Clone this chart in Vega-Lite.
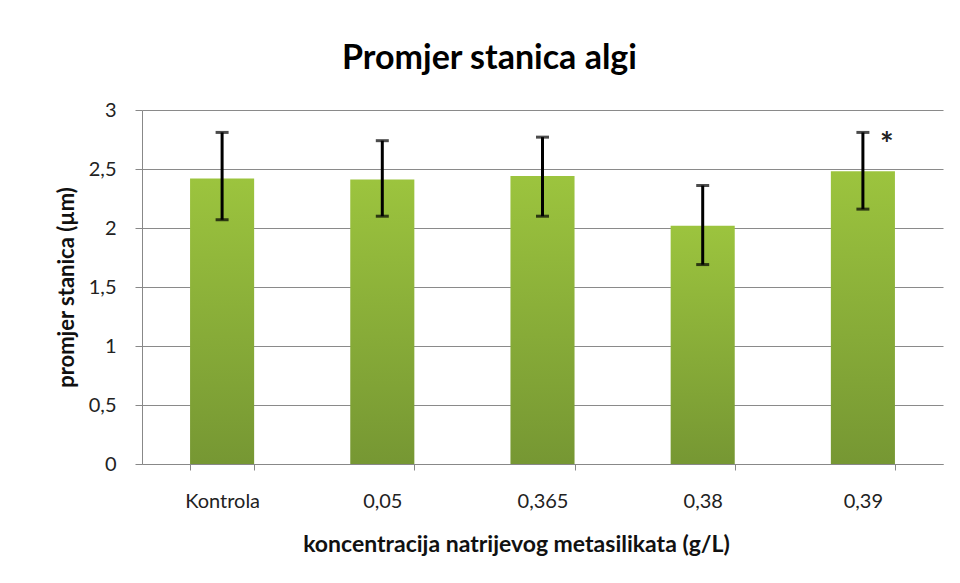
{
  "$schema": "https://vega.github.io/schema/vega-lite/v6.json",
  "width": 801,
  "height": 354,
  "autosize": {"type": "none"},
  "padding": {"left": 142, "top": 110, "right": 17, "bottom": 119},
  "background": "white",
  "title": {
    "text": "Promjer stanica algi",
    "font": "Lato",
    "fontSize": 34,
    "fontWeight": "bold",
    "color": "#000000",
    "anchor": "middle",
    "dx": -53,
    "offset": 24
  },
  "config": {
    "view": {"stroke": null},
    "font": "Lato"
  },
  "data": {
    "values": [
      {"kategorija": "Kontrola", "promjer": 2.42, "donja": 2.07, "gornja": 2.81, "oznaka": ""},
      {"kategorija": "0,05", "promjer": 2.41, "donja": 2.10, "gornja": 2.74, "oznaka": ""},
      {"kategorija": "0,365", "promjer": 2.44, "donja": 2.10, "gornja": 2.77, "oznaka": ""},
      {"kategorija": "0,38", "promjer": 2.02, "donja": 1.69, "gornja": 2.36, "oznaka": ""},
      {"kategorija": "0,39", "promjer": 2.48, "donja": 2.16, "gornja": 2.81, "oznaka": "*"}
    ]
  },
  "encoding": {
    "x": {
      "field": "kategorija",
      "type": "nominal",
      "sort": null,
      "scale": {"paddingInner": 0.6, "paddingOuter": 0.3},
      "axis": {
        "title": "koncentracija natrijevog metasilikata (g/L)",
        "titleFont": "Lato",
        "titleFontSize": 23,
        "titleFontWeight": "bold",
        "titleColor": "#111111",
        "titlePadding": 22,
        "titleX": 374,
        "labelAngle": 0,
        "labelFont": "Lato",
        "labelFontSize": 20,
        "labelColor": "#222222",
        "labelPadding": 21,
        "domainColor": "#888888",
        "tickColor": "#888888",
        "tickSize": 6,
        "tickBand": "extent",
        "grid": false
      }
    }
  },
  "layer": [
    {
      "mark": {
        "type": "bar",
        "color": {
          "gradient": "linear",
          "x1": 0, "y1": 0, "x2": 0, "y2": 1,
          "stops": [
            {"offset": 0, "color": "#9cc43e"},
            {"offset": 1, "color": "#769733"}
          ]
        }
      },
      "encoding": {
        "y": {
          "field": "promjer",
          "type": "quantitative",
          "scale": {"domain": [0, 3]},
          "axis": {
            "title": "promjer stanica  (µm)",
            "titleFont": "Lato",
            "titleFontSize": 22,
            "titleFontWeight": "bold",
            "titleColor": "#111111",
            "titlePadding": 10,
            "values": [0, 0.5, 1, 1.5, 2, 2.5, 3],
            "labelExpr": "replace(format(datum.value, '~g'), '.', ',')",
            "labelFont": "Lato",
            "labelFontSize": 20,
            "labelColor": "#222222",
            "labelPadding": 19,
            "domainColor": "#888888",
            "tickColor": "#888888",
            "tickSize": 7,
            "gridColor": "#8a8a8a",
            "gridWidth": 1.2
          }
        }
      }
    },
    {
      "mark": {"type": "rule", "color": "#000000", "strokeWidth": 3},
      "encoding": {
        "y": {"field": "donja", "type": "quantitative"},
        "y2": {"field": "gornja"}
      }
    },
    {
      "mark": {"type": "tick", "color": "#000000", "thickness": 3, "size": 13},
      "encoding": {
        "y": {"field": "donja", "type": "quantitative"}
      }
    },
    {
      "mark": {"type": "tick", "color": "#000000", "thickness": 3, "size": 13},
      "encoding": {
        "y": {"field": "gornja", "type": "quantitative"}
      }
    },
    {
      "mark": {"type": "text", "font": "Lato", "fontSize": 32, "fontWeight": "bold", "color": "#222222", "dx": 24, "dy": 14},
      "encoding": {
        "y": {"field": "gornja", "type": "quantitative"},
        "text": {"field": "oznaka"}
      }
    }
  ]
}
